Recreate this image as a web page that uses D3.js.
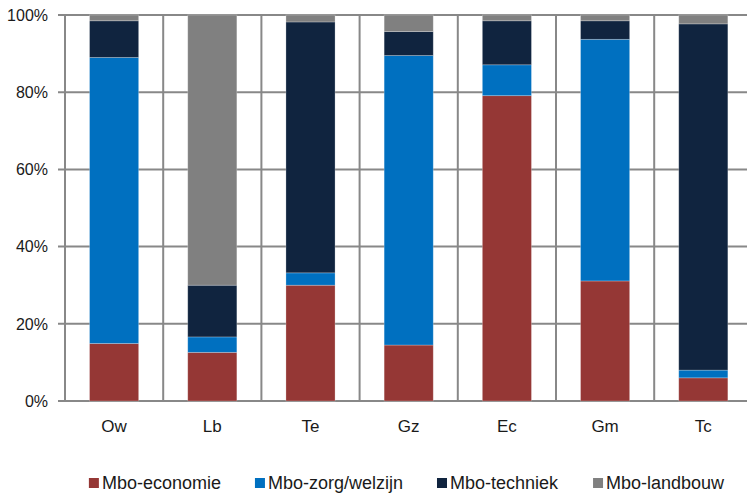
<!DOCTYPE html>
<html>
<head>
<meta charset="utf-8">
<script src="https://cdn.jsdelivr.net/npm/d3@7"></script>
<style>
html,body{margin:0;padding:0;background:#fff;}
svg{display:block;}
text{font-family:"Liberation Sans",Arial,sans-serif;fill:#1a1a1a;}
</style>
</head>
<body>
<svg id="chart" width="747" height="495"></svg>
<script>
const categories = ["Ow","Lb","Te","Gz","Ec","Gm","Tc"];
const seriesNames = ["Mbo-economie","Mbo-zorg/welzijn","Mbo-techniek","Mbo-landbouw"];
const economie  = [14.9, 12.6, 30.0, 14.5, 79.1, 31.1, 6.0];
const zorg      = [74.1,  4.0,  3.2, 75.0,  8.0, 62.6, 2.0];
const techniek  = [ 9.5, 13.4, 65.0,  6.2, 11.4,  4.8, 89.7];
const landbouw  = [ 1.5, 70.0,  1.8,  4.3,  1.5,  1.5, 2.3];
const yTicks = [0, 0.2, 0.4, 0.6, 0.8, 1.0];
const colors = ["#953735","#0070C0","#10243F","#808080"];

const series = [economie, zorg, techniek, landbouw];
const rows = categories.map((c,i)=>{
  const r = {cat:c};
  seriesNames.forEach((s,j)=>{ r[s] = series[j][i]; });
  return r;
});
const stack = d3.stack().keys(seriesNames).offset(d3.stackOffsetExpand);
const stacked = stack(rows);

const svg = d3.select("#chart");
const x = d3.scaleBand().domain(categories).range([65, 752.4]).paddingInner(0.5).paddingOuter(0.25);
const y = d3.scaleLinear().domain([0,1]).range([401, 15]);
const gridColor = "#888888";

// horizontal grid lines
svg.append("g").selectAll("line").data(yTicks).join("line")
  .attr("x1", 58).attr("x2", 752)
  .attr("y1", d=>y(d)).attr("y2", d=>y(d))
  .attr("stroke", gridColor).attr("stroke-width", 2);

// vertical grid lines at band boundaries
const bounds = d3.range(categories.length+1).map(i=>x.range()[0] + i*x.step());
svg.append("g").selectAll("line").data(bounds).join("line")
  .attr("x1", d=>d).attr("x2", d=>d)
  .attr("y1", y(1)).attr("y2", y(0))
  .attr("stroke", gridColor).attr("stroke-width", 2);

// bars
svg.append("g").selectAll("g").data(stacked).join("g")
  .attr("fill", (d,i)=>colors[i])
  .selectAll("rect").data(d=>d).join("rect")
  .attr("x", d=>x(d.data.cat))
  .attr("width", x.bandwidth())
  .attr("y", d=>y(d[1]))
  .attr("height", d=>y(d[0]) - y(d[1]))
  .attr("stroke", "rgba(255,255,255,0.3)").attr("stroke-width", 0.8);

// y tick labels
svg.append("g").selectAll("text").data(yTicks).join("text")
  .attr("x", 48).attr("y", d=>y(d)).attr("dy","0.36em")
  .attr("text-anchor","end").attr("font-size", 16)
  .text(d=>d3.format(".0%")(d));

// x labels
svg.append("g").selectAll("text").data(categories).join("text")
  .attr("x", d=>x(d)+x.bandwidth()/2).attr("y", 432)
  .attr("text-anchor","middle").attr("font-size", 17)
  .text(d=>d);

// legend
const lg = svg.append("g");
const items = lg.selectAll("g").data(seriesNames).join("g");
items.append("rect").attr("width",10).attr("height",10).attr("y",478)
  .attr("fill",(d,i)=>colors[i]);
items.append("text").attr("x",13).attr("y",489).attr("font-size",18).text(d=>d);
let widths = [];
items.each(function(){ widths.push(this.getBBox().width); });
const gap = 34;
const total = d3.sum(widths) + gap*(widths.length-1);
let cx = 407 - total/2;
items.each(function(d,i){
  d3.select(this).attr("transform", `translate(${cx},0)`);
  cx += widths[i] + gap;
});
</script>
</body>
</html>
